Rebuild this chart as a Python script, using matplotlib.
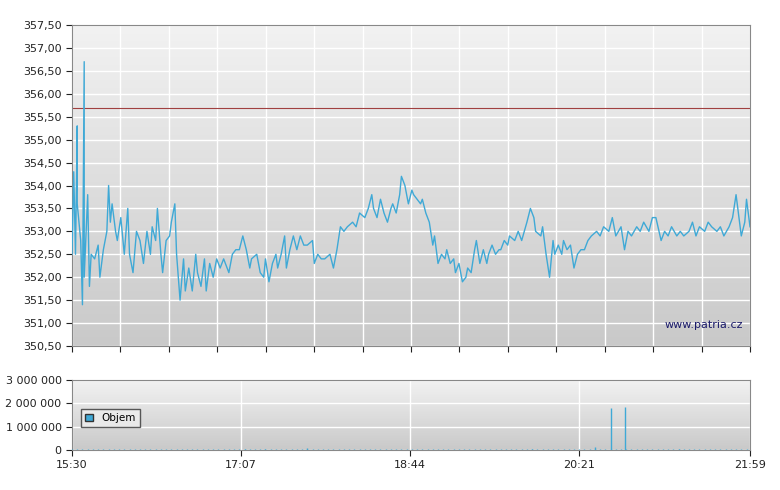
import numpy as np
import matplotlib
matplotlib.use("Agg")
import matplotlib.pyplot as plt
from matplotlib.colors import LinearSegmentedColormap

# minutes after 15:30
times = [0,1,2,3,3,5,6,7,7,9,10,11,13,15,16,18,20,21,22,23,25,26,28,30,32,33,35,37,39,41,43,45,46,48,49,51,52,54,56,57,59,60,62,64,65,67,69,71,72,74,76,77,79,81,83,85,87,90,92,94,96,98,100,102,103,106,108,110,111,113,115,117,118,120,122,123,125,127,129,131,133,135,138,139,141,143,145,148,150,152,154,156,158,161,163,165,168,170,172,173,175,177,179,181,183,184,186,188,189,191,193,195,196,198,200,201,203,205,207,208,210,212,214,215,217,219,220,222,224,226,227,229,231,232,234,236,238,239,241,243,245,246,248,250,251,254,256,258,261,263,265,266,269,270,272,274,276,277,279,281,282,284,286,288,290,292,294,296,298,301,303,305,308,310,312,315,317,319,321,324,326,328,331,333,335,338,340,342,344,347,349,351,354,356,358,360,363,365,367,370,372,374,377,379,381,382,384,386,387,389]
prices = [352.5,354.3,352.5,355.3,353.6,352.8,351.4,356.7,352.0,353.8,351.8,352.5,352.4,352.7,352.0,352.6,353.0,354.0,353.2,353.6,353.0,352.8,353.3,352.5,353.5,352.5,352.1,353.0,352.8,352.3,353.0,352.5,353.1,352.8,353.5,352.5,352.1,352.8,352.9,353.2,353.6,352.5,351.5,352.4,351.7,352.2,351.7,352.5,352.1,351.8,352.4,351.7,352.3,352.0,352.4,352.2,352.4,352.1,352.5,352.6,352.6,352.9,352.6,352.2,352.4,352.5,352.1,352.0,352.4,351.9,352.3,352.5,352.2,352.5,352.9,352.2,352.6,352.9,352.6,352.9,352.7,352.7,352.8,352.3,352.5,352.4,352.4,352.5,352.2,352.6,353.1,353.0,353.1,353.2,353.1,353.4,353.3,353.5,353.8,353.5,353.3,353.7,353.4,353.2,353.5,353.6,353.4,353.8,354.2,354.0,353.6,353.9,353.8,353.7,353.6,353.7,353.4,353.2,352.7,352.9,352.3,352.5,352.4,352.6,352.3,352.4,352.1,352.3,351.9,352.0,352.2,352.1,352.6,352.8,352.3,352.6,352.3,352.5,352.7,352.5,352.6,352.6,352.8,352.7,352.9,352.8,353.0,352.8,353.2,353.5,353.3,353.0,352.9,353.1,352.5,352.0,352.8,352.5,352.7,352.5,352.8,352.6,352.7,352.2,352.5,352.6,352.6,352.8,352.9,353.0,352.9,353.1,353.0,353.3,352.9,353.1,352.6,353.0,352.9,353.1,353.0,353.2,353.0,353.3,353.3,352.8,353.0,352.9,353.1,352.9,353.0,352.9,353.0,353.2,352.9,353.1,353.0,353.2,353.1,353.0,353.1,352.9,353.1,353.3,353.8,353.5,352.9,353.2,353.7,353.1]
n = min(len(times), len(prices))
times, prices = times[:n], prices[:n]
prev_close = 355.7

vol_times = list(range(0, 390, 3))
vol_values = [30000]*len(vol_times)
spikes = {309: 1800000, 317: 1850000, 300: 120000, 264: 60000, 99: 60000, 135: 70000, 348: 60000, 111: 50000}
vol_times += list(spikes.keys())
vol_values += list(spikes.values())

xtick_labels = ["15:30", "17:07", "18:44", "20:21", "21:59"]
xtick_pos = [0, 97, 194, 291, 389]

fig = plt.figure(figsize=(7.8, 4.9), dpi=100)
fig.patch.set_facecolor("white")
ax = fig.add_axes([72/780, 1-346/490, 678/780, 321/490])
axv = fig.add_axes([72/780, 1-450/490, 678/780, 70/490])

cmap = LinearSegmentedColormap.from_list("g", ["#f2f2f2", "#c9c9c9"])
for a in (ax, axv):
    grad = np.linspace(0, 1, 256).reshape(-1, 1)
    a.imshow(grad, aspect="auto", cmap=cmap, extent=[0, 1, 0, 1], transform=a.transAxes, zorder=0)
    for s in a.spines.values():
        s.set_color("#888888")
    a.tick_params(labelsize=8, colors="#222222", length=4)

minor = np.linspace(0, 389, 15)
ax.set_xlim(0, 389)
ax.set_ylim(350.5, 357.5)
ax.set_yticks(np.arange(350.5, 357.51, 0.5))
ax.set_yticklabels([f"{v:.2f}".replace(".", ",") for v in np.arange(350.5, 357.51, 0.5)])
ax.set_xticks(minor)
ax.set_xticklabels([])
ax.grid(True, color="white", lw=1, zorder=1)
ax.plot(times, prices, color="#3fa9d6", lw=1, zorder=3)
ax.axhline(prev_close, color="#a04040", lw=0.8, zorder=2)
ax.text(0.99, 0.05, "www.patria.cz", transform=ax.transAxes, ha="right", va="bottom", fontsize=8, color="#1a1a6a")

axv.set_xlim(0, 389)
axv.set_ylim(0, 3000000)
axv.set_yticks([0, 1000000, 2000000, 3000000])
axv.set_yticklabels(["0", "1 000 000", "2 000 000", "3 000 000"])
axv.set_xticks(xtick_pos)
axv.set_xticklabels(xtick_labels)
axv.grid(True, color="white", lw=1, zorder=1)
axv.vlines(vol_times, 0, vol_values, color="#3fa9d6", lw=1, zorder=3)
h = plt.Rectangle((0, 0), 1, 1, fc="#3fa9d6", ec="#333333")
leg = axv.legend([h], ["Objem"], loc="lower left", bbox_to_anchor=(0.005, 0.25), fontsize=7.5, frameon=True, fancybox=False, handlelength=0.8, handleheight=0.8)
leg.get_frame().set_edgecolor("#333333")
leg.get_frame().set_facecolor("#eeeeee")

fig.savefig("out.png", dpi=100)
